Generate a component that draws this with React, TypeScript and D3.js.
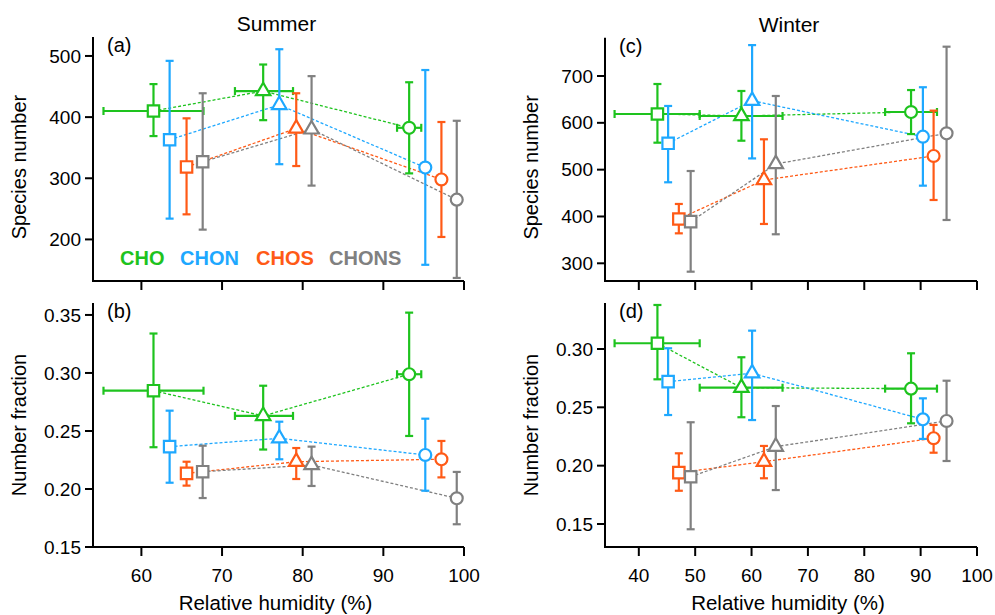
import React from 'react';
import * as d3 from 'd3';

// ---------- data ----------
const seriesNames = ['CHO', 'CHON', 'CHOS', 'CHONS'];
const seriesColors = ['#1ec31e', '#1ea8ff', '#ff5a16', '#808080'];

// Relative humidity (x) per series, 3 groups each
const summerRH = [
  [61.5, 75.1, 93.2],
  [63.5, 77.1, 95.2],
  [65.6, 79.2, 97.2],
  [67.6, 81.1, 99.1],
];
const winterRH = [
  [43.3, 58.2, 88.3],
  [45.2, 60.1, 90.4],
  [47.1, 62.2, 92.3],
  [49.2, 64.3, 94.6],
];
// horizontal RH ranges (CHO only)
const summerRHRange = [[55.3, 67.7], [71.6, 78.8], [91.7, 94.7]];
const winterRHRange = [[35.7, 50.8], [50.8, 65.5], [83.7, 92.9]];

// (a) Summer species number
const summerNum = [[410, 442.6, 382.5], [363, 420, 317.5], [318.5, 381.5, 298], [327, 380, 265]];
const summerNumLo = [[369, 395, 308], [234, 323, 158.5], [241, 320, 204], [216, 288, 137]];
const summerNumHi = [[454, 486, 457], [492, 511, 477], [398, 439, 392], [439, 467, 394]];

// (b) Summer number fraction
const summerFrac = [[0.2847, 0.263, 0.2989], [0.2365, 0.2437, 0.2293], [0.2135, 0.2235, 0.2256], [0.2149, 0.2207, 0.192]];
const summerFracLo = [[0.236, 0.234, 0.2457], [0.2054, 0.2256, 0.1985], [0.2029, 0.2086, 0.21], [0.1922, 0.2026, 0.1696]];
const summerFracHi = [[0.334, 0.289, 0.352], [0.2675, 0.258, 0.2606], [0.2235, 0.2353, 0.2414], [0.2373, 0.2365, 0.2147]];

// (c) Winter species number
const winterNum = [[618.9, 614.6, 623.1], [556.3, 647.3, 570.4], [394.6, 477.9, 529.2], [388.9, 512.1, 577.6]];
const winterNumLo = [[557.6, 561.8, 576], [473, 524, 465.8], [364, 384, 435.2], [282.1, 362, 392.5]];
const winterNumHi = [[682.9, 668, 670], [636, 766, 676], [426.7, 564.8, 626], [497.1, 657.3, 762.6]];

// (d) Winter number fraction
const winterFrac = [[0.3049, 0.2668, 0.266], [0.272, 0.2792, 0.2397], [0.194, 0.2034, 0.2235], [0.1905, 0.2163, 0.2383]];
const winterFracLo = [[0.274, 0.2415, 0.2363], [0.2434, 0.2391, 0.2229], [0.1785, 0.1892, 0.2111], [0.1455, 0.1791, 0.204]];
const winterFracHi = [[0.3377, 0.2929, 0.2963], [0.3006, 0.3157, 0.2577], [0.2106, 0.2169, 0.2349], [0.2372, 0.2511, 0.2728]];

const summerXTicks = [60, 70, 80, 90, 100];
const winterXTicks = [40, 50, 60, 70, 80, 90, 100];
const summerNumTicks = [200, 300, 400, 500];
const winterNumTicks = [300, 400, 500, 600, 700];
const summerFracTicks = [0.15, 0.2, 0.25, 0.3, 0.35];
const winterFracTicks = [0.15, 0.2, 0.25, 0.3];

const FONT = '"Liberation Sans", Arial, Helvetica, sans-serif';
const markerTypes = [d3.symbolSquare, d3.symbolTriangle, d3.symbolCircle];
const markerSizes = [130, 90, 112];

type PanelProps = {
  x: d3.ScaleLinear<number, number>;
  y: d3.ScaleLinear<number, number>;
  xTicks: number[];
  yTicks: number[];
  yFmt: (v: number) => string;
  showXLabels: boolean;
  label: string;
  rh: number[][];
  rhRange: number[][];
  vals: number[][];
  lo: number[][];
  hi: number[][];
  yTitle: string;
  yTitleShift: number;
  xTitle?: string;
  title?: string;
  legend?: boolean;
};

function Panel(p: PanelProps) {
  const [x0, x1] = p.x.range();
  const [yb, yt] = p.y.range();
  const xc = (x0 + x1) / 2;
  const yc = (yb + yt) / 2 + p.yTitleShift;
  const line = d3.line<[number, number]>().x((d) => p.x(d[0])).y((d) => p.y(d[1]));
  const cap = 4;
  return (
    <g>
      {/* axes */}
      <line x1={x0} x2={x0} y1={yt} y2={yb + 1} stroke="#000" strokeWidth={2} />
      <line x1={x0 - 1} x2={x1} y1={yb} y2={yb} stroke="#000" strokeWidth={2} />
      {p.yTicks.map((t) => (
        <g key={'y' + t}>
          <line x1={x0 - 8} x2={x0} y1={p.y(t)} y2={p.y(t)} stroke="#000" strokeWidth={2} />
          <text x={x0 - 12} y={p.y(t)} dy="0.35em" textAnchor="end" fontSize={19} fontFamily={FONT}>
            {p.yFmt(t)}
          </text>
        </g>
      ))}
      {p.xTicks.map((t) => (
        <g key={'x' + t}>
          <line x1={p.x(t)} x2={p.x(t)} y1={yb} y2={yb + 9} stroke="#000" strokeWidth={2} />
          {p.showXLabels && (
            <text x={p.x(t)} y={yb + 35} textAnchor="middle" fontSize={19} fontFamily={FONT}>
              {t}
            </text>
          )}
        </g>
      ))}
      <text
        transform={`translate(${x0 - 67},${yc}) rotate(-90)`}
        textAnchor="middle"
        fontSize={20}
        fontFamily={FONT}
      >
        {p.yTitle}
      </text>
      {p.xTitle && (
        <text x={xc - 3} y={yb + 63} textAnchor="middle" fontSize={20.5} fontFamily={FONT}>
          {p.xTitle}
        </text>
      )}
      {p.title && (
        <text x={xc - 2} y={yt - 6} textAnchor="middle" fontSize={21} fontFamily={FONT}>
          {p.title}
        </text>
      )}
      <text x={x0 + 14} y={yt + 15} fontSize={20} fontFamily={FONT}>
        {p.label}
      </text>

      {/* dashed connecting lines */}
      {p.vals.map((v, s) => (
        <path
          key={'l' + s}
          d={line(v.map((d, i) => [p.rh[s][i], d]) as [number, number][]) || ''}
          fill="none"
          stroke={seriesColors[s]}
          strokeWidth={1.3}
          strokeDasharray="3,2"
        />
      ))}

      {/* error bars and markers */}
      {p.vals.map((v, s) => (
        <g key={'s' + s} stroke={seriesColors[s]} strokeWidth={2.2} fill="none">
          {v.map((d, i) => {
            const cx = p.x(p.rh[s][i]);
            const yH = p.y(p.hi[s][i]);
            const yL = p.y(p.lo[s][i]);
            return (
              <g key={i}>
                <line x1={cx} x2={cx} y1={yH} y2={yL} />
                <line x1={cx - cap} x2={cx + cap} y1={yH} y2={yH} />
                <line x1={cx - cap} x2={cx + cap} y1={yL} y2={yL} />
                {s === 0 && (
                  <g>
                    <line x1={p.x(p.rhRange[i][0])} x2={p.x(p.rhRange[i][1])} y1={p.y(d)} y2={p.y(d)} />
                    <line x1={p.x(p.rhRange[i][0])} x2={p.x(p.rhRange[i][0])} y1={p.y(d) - cap} y2={p.y(d) + cap} />
                    <line x1={p.x(p.rhRange[i][1])} x2={p.x(p.rhRange[i][1])} y1={p.y(d) - cap} y2={p.y(d) + cap} />
                  </g>
                )}
              </g>
            );
          })}
          {v.map((d, i) => (
            <path
              key={'m' + i}
              transform={`translate(${p.x(p.rh[s][i])},${p.y(d)})`}
              d={d3.symbol().type(markerTypes[i]).size(markerSizes[i])() || ''}
              fill="#fff"
              strokeWidth={2.2}
            />
          ))}
        </g>
      ))}

      {p.legend && (
        <g fontSize={20} fontWeight="bold" fontFamily={FONT}>
          {seriesNames.map((n, i) => (
            <text key={n} x={[120, 180, 256, 329][i]} y={265} fill={seriesColors[i]}>
              {n}
            </text>
          ))}
        </g>
      )}
    </g>
  );
}

export default function App() {
  const xSummer = d3.scaleLinear().domain([54, 100]).range([93, 464]);
  const xWinter = d3.scaleLinear().domain([34, 100]).range([605, 977]);
  const yA = d3.scaleLinear().domain([132, 531]).range([281, 37]);
  const yB = d3.scaleLinear().domain([0.15, 0.3603]).range([547, 303]);
  const yC = d3.scaleLinear().domain([262.2, 781.8]).range([281, 37.7]);
  const yD = d3.scaleLinear().domain([0.1303, 0.3394]).range([547, 303]);
  const f0 = (v: number) => d3.format('d')(v);
  const f2 = (v: number) => d3.format('.2f')(v);
  return (
    <svg
      width={995}
      height={615}
      style={{ position: 'absolute', left: 0, top: 0, background: '#fff' }}
    >
      <rect width={995} height={615} fill="#fff" />
      <Panel x={xSummer} y={yA} xTicks={summerXTicks} yTicks={summerNumTicks} yFmt={f0} showXLabels={false}
        label="(a)" rh={summerRH} rhRange={summerRHRange} vals={summerNum} lo={summerNumLo} hi={summerNumHi}
        yTitle="Species number" yTitleShift={8} title="Summer" legend />
      <Panel x={xSummer} y={yB} xTicks={summerXTicks} yTicks={summerFracTicks} yFmt={f2} showXLabels
        label="(b)" rh={summerRH} rhRange={summerRHRange} vals={summerFrac} lo={summerFracLo} hi={summerFracHi}
        yTitle="Number fraction" yTitleShift={0} xTitle="Relative humidity (%)" />
      <Panel x={xWinter} y={yC} xTicks={winterXTicks} yTicks={winterNumTicks} yFmt={f0} showXLabels={false}
        label="(c)" rh={winterRH} rhRange={winterRHRange} vals={winterNum} lo={winterNumLo} hi={winterNumHi}
        yTitle="Species number" yTitleShift={8} title="Winter" />
      <Panel x={xWinter} y={yD} xTicks={winterXTicks} yTicks={winterFracTicks} yFmt={f2} showXLabels
        label="(d)" rh={winterRH} rhRange={winterRHRange} vals={winterFrac} lo={winterFracLo} hi={winterFracHi}
        yTitle="Number fraction" yTitleShift={0} xTitle="Relative humidity (%)" />
    </svg>
  );
}
